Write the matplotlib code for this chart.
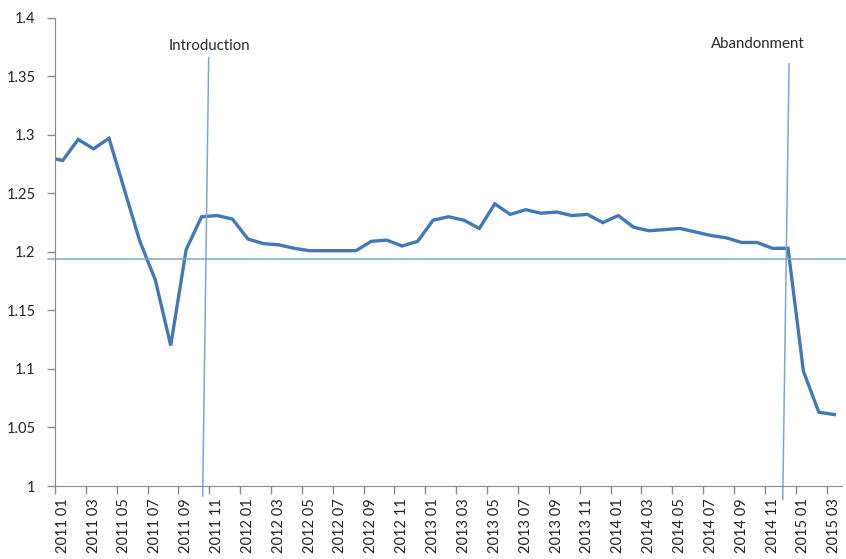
import matplotlib.pyplot as plt
import numpy as np

# monthly EUR/CHF, 2010 12 (clipped lead-in) then 2011 01 .. 2015 03
months = [f"{y} {m:02d}" for y in range(2011, 2016) for m in range(1, 13)][:51]
lead_in = 1.281
rate = [1.278, 1.296, 1.288, 1.297, 1.253, 1.209, 1.176, 1.120, 1.202, 1.230,
        1.231, 1.228, 1.211, 1.207, 1.206, 1.203, 1.201, 1.201, 1.201, 1.201,
        1.209, 1.210, 1.205, 1.209, 1.227, 1.230, 1.227, 1.220, 1.241, 1.232,
        1.236, 1.233, 1.234, 1.231, 1.232, 1.225, 1.231, 1.221, 1.218, 1.219,
        1.220, 1.217, 1.214, 1.212, 1.208, 1.208, 1.203, 1.203, 1.098, 1.063,
        1.061]
floor_level = 1.194

# hand-drawn event markers: (x_top, x_bottom), (y_top, y_bottom)
intro_x = (9.46, 9.07)
intro_y = (1.366, 0.9915)
abandon_x = (47.07, 46.66)
abandon_y = (1.3607, 0.9886)

line_blue = "#4277B8"
thin_blue = "#7FA5D6"
grey = "#888888"

plt.rcParams['font.family'] = ['Lato', 'DejaVu Sans']

fig = plt.figure(figsize=(8.46, 5.59), dpi=100)
ax = fig.add_axes([55 / 846, 1 - 486 / 559, 787 / 846, (486 - 17.7) / 559])

x = np.arange(-1, len(rate))
ax.plot(x, [lead_in] + rate, color=line_blue, lw=2.4, solid_joinstyle="miter")

ax.plot([-0.95, 50.76], [floor_level, floor_level], color=thin_blue, lw=1.1,
        clip_on=False)
ax.plot(intro_x, intro_y, color=thin_blue, lw=1.1, clip_on=False)
ax.plot(abandon_x, abandon_y, color=thin_blue, lw=1.1, clip_on=False)
ax.text(9.49, 1.3755, "Introduction", ha="center", va="center", fontsize=10.8,
        color="#2a2a2a")
ax.text(45.06, 1.3775, "Abandonment", ha="center", va="center", fontsize=10.8,
        color="#2a2a2a")

ax.set_xlim(-0.5, len(rate) - 0.5)
ax.set_ylim(1.0, 1.4)
ax.set_yticks(np.arange(1.0, 1.401, 0.05))
ax.set_yticklabels(["1", "1.05", "1.1", "1.15", "1.2", "1.25", "1.3", "1.35", "1.4"])

ax.set_xticks(np.arange(-0.5, len(rate) - 1, 2))
ax.set_xticklabels([])
ax.set_xticks(np.arange(0, len(rate), 2), minor=True)
ax.set_xticklabels(months[::2], minor=True, rotation=90)
ax.tick_params(axis="x", which="minor", length=0, pad=9, labelsize=10.5,
               labelcolor="#222222")
ax.tick_params(axis="x", which="major", length=6, color=grey, width=1)
ax.tick_params(axis="y", length=6, color=grey, width=1, labelsize=10.5,
               labelcolor="#222222", pad=8)

for side in ("top", "right"):
    ax.spines[side].set_visible(False)
for side in ("left", "bottom"):
    ax.spines[side].set_color(grey)

fig.savefig("out.png", dpi=100)
